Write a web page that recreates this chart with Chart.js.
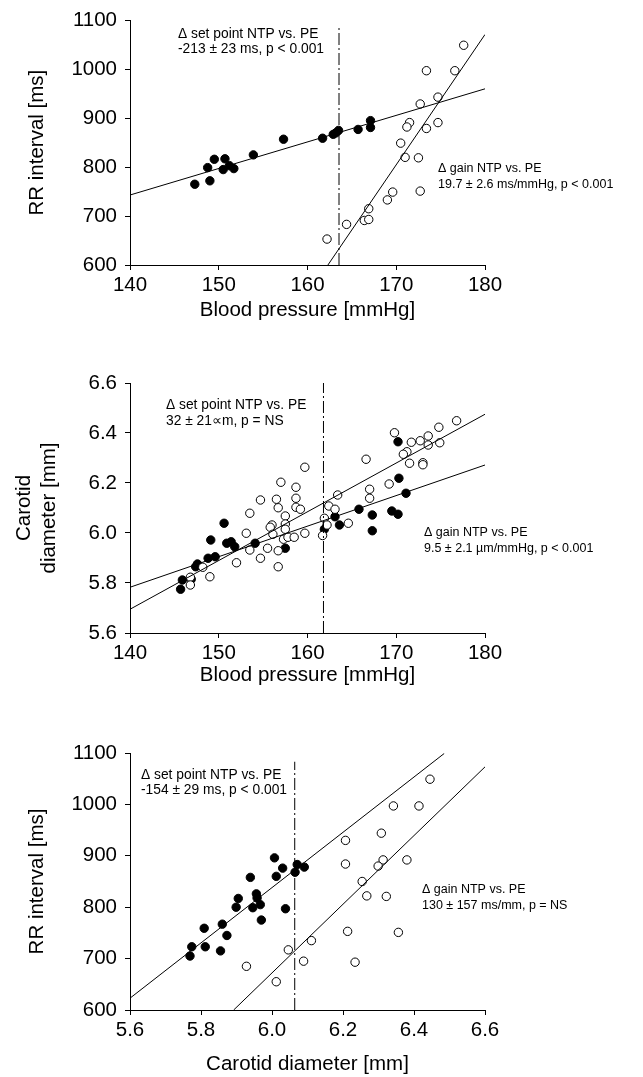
<!DOCTYPE html>
<html>
<head>
<meta charset="utf-8">
<script src="https://cdn.jsdelivr.net/npm/chart.js@4"></script>
<style>
  html, body { margin: 0; padding: 0; background: #fff; }
  body { width: 643px; height: 1077px; position: relative; overflow: hidden; }
  .panel { position: absolute; left: 0; width: 643px; }
</style>
</head>
<body>
<div class="panel" style="top:0;height:323px"><canvas id="c1"></canvas></div>
<div class="panel" style="top:340px;height:348px"><canvas id="c2"></canvas></div>
<div class="panel" style="top:720px;height:357px"><canvas id="c3"></canvas></div>
<script>
// panel 1: RR interval vs blood pressure
const p1FilledX = [147.3, 148.75, 149.0, 149.5, 150.7, 150.5, 151.2, 151.7, 153.9, 157.3, 161.7, 162.9, 163.2, 163.5, 165.7, 167.1, 167.1];
const p1FilledY = [765, 799, 772, 816, 817, 795, 803, 797, 825, 857, 859, 867, 870, 875, 877, 895, 881];
const p1OpenX = [177.6, 173.4, 176.6, 174.7, 172.7, 171.5, 171.2, 173.4, 174.7, 170.5, 171.0, 172.5, 172.7, 169.6, 169.0, 166.9, 166.4, 166.9, 164.4, 162.2];
const p1OpenY = [1049, 997, 997, 943, 929, 891, 882, 879, 891, 849, 820, 819, 751, 749, 733, 715, 691, 693, 683, 653];
const p1FitFilledX = [140, 180], p1FitFilledY = [743, 960];
const p1FitOpenX = [162.3, 180], p1FitOpenY = [600, 1071];
const p1SetX = [163.55, 163.55], p1SetY = [600, 1085];

// panel 2: carotid diameter vs blood pressure
const p2FilledX = [145.7, 145.9, 146.9, 147.4, 147.6, 148.8, 149.6, 149.1, 150.6, 150.9, 151.4, 151.8, 154.1, 157.5, 161.9, 163.1, 163.6, 165.8, 167.3, 167.3, 169.5, 170.2, 170.2, 170.3, 171.1];
const p2FilledY = [5.775, 5.812, 5.815, 5.865, 5.876, 5.899, 5.905, 5.972, 6.039, 5.959, 5.965, 5.945, 5.959, 5.939, 6.015, 6.065, 6.032, 6.095, 6.072, 6.009, 6.088, 6.075, 6.365, 6.219, 6.159];
const p2OpenX = [159.7, 157.0, 158.7, 156.5, 158.7, 154.7, 156.7, 158.7, 159.2, 153.5, 157.5, 156.0, 155.8, 157.5, 157.5, 153.1, 156.1, 157.3, 157.8, 158.5, 159.7, 161.7, 155.5, 153.5, 156.7, 154.7, 152.0, 156.7, 148.2, 149.0, 146.8, 146.8,
  176.8, 174.8, 174.9, 173.6, 173.6, 172.7, 171.7, 169.8, 171.2, 170.8, 171.5, 173.0, 173.0, 166.6, 169.2, 167.0, 167.0, 163.4, 162.4, 163.1, 161.9, 162.2, 164.6];
const p2OpenY = [6.263, 6.203, 6.183, 6.135, 6.139, 6.132, 6.101, 6.103, 6.095, 6.079, 6.068, 6.032, 6.023, 6.036, 6.015, 5.999, 5.995, 5.975, 5.983, 5.983, 5.999, 5.990, 5.939, 5.932, 5.929, 5.899, 5.881, 5.865, 5.863, 5.825, 5.823, 5.792,
  6.449, 6.423, 6.361, 6.388, 6.352, 6.369, 6.363, 6.401, 6.325, 6.315, 6.279, 6.281, 6.273, 6.295, 6.196, 6.175, 6.139, 6.152, 6.108, 6.095, 6.059, 6.032, 6.039];
const p2FitFilledX = [140, 180], p2FitFilledY = [5.783, 6.272];
const p2FitOpenX = [140, 180], p2FitOpenY = [5.695, 6.475];
const p2SetX = [161.8, 161.8], p2SetY = [5.6, 6.6];

// panel 3: RR interval vs carotid diameter
const p3FilledX = [5.769, 5.774, 5.809, 5.812, 5.855, 5.860, 5.873, 5.899, 5.905, 5.939, 5.946, 5.956, 5.958, 5.967, 5.970, 6.007, 6.012, 6.030, 6.038, 6.065, 6.071, 6.091];
const p3FilledY = [705, 723, 759, 723, 715, 767, 745, 800, 817, 858, 799, 826, 818, 805, 775, 896, 860, 876, 797, 868, 883, 878];
const p3OpenX = [6.445, 6.342, 6.414, 6.308, 6.207, 6.207, 6.313, 6.299, 6.380, 6.254, 6.267, 6.322, 6.213, 6.356, 6.111, 6.046, 6.089, 6.234, 5.928, 6.012];
const p3OpenY = [1049, 997, 997, 944, 930, 884, 892, 880, 892, 850, 822, 821, 753, 751, 735, 717, 695, 693, 685, 655];
const p3FitFilledX = [5.6, 6.485], p3FitFilledY = [623, 1099];
const p3FitOpenX = [5.892, 6.6], p3FitOpenY = [600, 1073];
const p3SetX = [6.064, 6.064], p3SetY = [600, 1083];

// tick labels
const bpTicks = [140, 150, 160, 170, 180];
const rrTicks = [600, 700, 800, 900, 1000, 1100];
const diamTicks = [5.6, 5.8, 6.0, 6.2, 6.4, 6.6];

const FONT = "'Liberation Sans', Arial, Helvetica, sans-serif";
const AXIS_SIZE = 20.5;

function pts(xs, ys) {
  return xs.map((x, i) => ({ x: x, y: ys[i] }));
}

function pointSet(xs, ys, filled) {
  return {
    data: pts(xs, ys),
    showLine: false,
    pointRadius: 4.2,
    pointBorderWidth: 1,
    pointBorderColor: "#000",
    pointBackgroundColor: filled ? "#000" : "#fff",
  };
}

function lineSet(xs, ys, dash) {
  return {
    data: pts(xs, ys),
    showLine: true,
    borderColor: "#000",
    borderWidth: 1,
    borderDash: dash || [],
    pointRadius: 0,
    fill: false,
  };
}

// text notes drawn on the canvas
const notesPlugin = {
  id: "notes",
  afterDraw(chart) {
    const notes = chart.options.plugins.notes.items || [];
    const ctx = chart.ctx;
    ctx.save();
    ctx.fillStyle = "#000";
    ctx.textBaseline = "middle";
    ctx.textAlign = "left";
    notes.forEach((n) => {
      ctx.font = n.size + "px " + FONT;
      n.lines.forEach((t, i) => ctx.fillText(t, n.x, n.y + i * n.gap));
    });
    ctx.restore();
  },
};

function makeChart(id, cfg) {
  const ctx = document.getElementById(id).getContext("2d");
  return new Chart(ctx, {
    type: "scatter",
    data: {
      datasets: [
        lineSet(cfg.setX, cfg.setY, [12, 3, 2, 3]),
        lineSet(cfg.fitAX, cfg.fitAY),
        lineSet(cfg.fitBX, cfg.fitBY),
        pointSet(cfg.openX, cfg.openY, false),
        pointSet(cfg.filledX, cfg.filledY, true),
      ],
    },
    options: {
      responsive: true,
      maintainAspectRatio: false,
      animation: false,
      layout: { padding: { left: 0, right: 158, top: cfg.top, bottom: 0 } },
      plugins: {
        legend: { display: false },
        tooltip: { enabled: false },
        notes: { items: cfg.notes },
      },
      scales: {
        x: {
          type: "linear",
          min: cfg.xTicks[0],
          max: cfg.xTicks[cfg.xTicks.length - 1],
          afterBuildTicks: (s) => { s.ticks = cfg.xTicks.map((v) => ({ value: v })); },
          afterFit: (s) => { s.height = cfg.xHeight; },
          grid: { display: true, drawOnChartArea: false, drawTicks: true, tickLength: 5, color: "#000" },
          border: { display: true, color: "#000", width: 1 },
          ticks: {
            color: "#000",
            padding: 3,
            maxRotation: 0,
            font: { family: FONT, size: AXIS_SIZE },
            callback: (v) => cfg.xFmt(v),
          },
          title: {
            display: true,
            text: cfg.xTitle,
            color: "#000",
            padding: { top: 0, bottom: 0 },
            font: { family: FONT, size: AXIS_SIZE },
          },
        },
        y: {
          type: "linear",
          min: cfg.yTicks[0],
          max: cfg.yTicks[cfg.yTicks.length - 1],
          afterBuildTicks: (s) => { s.ticks = cfg.yTicks.map((v) => ({ value: v })); },
          afterFit: (s) => { s.width = 130; },
          grid: { display: true, drawOnChartArea: false, drawTicks: true, tickLength: 5, color: "#000" },
          border: { display: true, color: "#000", width: 1 },
          ticks: {
            color: "#000",
            padding: 8,
            font: { family: FONT, size: AXIS_SIZE },
            callback: (v) => cfg.yFmt(v),
          },
          title: {
            display: true,
            text: cfg.yTitle,
            color: "#000",
            padding: { top: cfg.yTitlePad, bottom: 0 },
            font: { family: FONT, size: AXIS_SIZE },
          },
        },
      },
    },
    plugins: [notesPlugin],
  });
}

makeChart("c1", {
  top: 15, xHeight: 58,
  filledX: p1FilledX, filledY: p1FilledY, openX: p1OpenX, openY: p1OpenY,
  fitAX: p1FitFilledX, fitAY: p1FitFilledY, fitBX: p1FitOpenX, fitBY: p1FitOpenY,
  setX: p1SetX, setY: p1SetY,
  xTicks: bpTicks, yTicks: rrTicks,
  xFmt: (v) => String(v), yFmt: (v) => String(v),
  xTitle: "Blood pressure [mmHg]", yTitle: "RR interval [ms]", yTitlePad: 25,
  notes: [
    { x: 178, y: 34, size: 13.8, gap: 15, lines: ["\u0394 set point NTP vs. PE", "-213 \u00b1 23 ms, p < 0.001"] },
    { x: 438, y: 169, size: 12.5, gap: 15.5, lines: ["\u0394 gain NTP vs. PE", "19.7 \u00b1 2.6 ms/mmHg, p < 0.001"] },
  ],
});

makeChart("c2", {
  top: 43, xHeight: 55,
  filledX: p2FilledX, filledY: p2FilledY, openX: p2OpenX, openY: p2OpenY,
  fitAX: p2FitFilledX, fitAY: p2FitFilledY, fitBX: p2FitOpenX, fitBY: p2FitOpenY,
  setX: p2SetX, setY: p2SetY,
  xTicks: bpTicks, yTicks: diamTicks,
  xFmt: (v) => String(v), yFmt: (v) => v.toFixed(1),
  xTitle: "Blood pressure [mmHg]", yTitle: ["Carotid", "diameter [mm]"], yTitlePad: 12,
  notes: [
    { x: 166, y: 65, size: 13.8, gap: 16, lines: ["\u0394 set point NTP vs. PE", "32 \u00b1 21\u221dm, p = NS"] },
    { x: 424, y: 193, size: 12.5, gap: 16, lines: ["\u0394 gain NTP vs. PE", "9.5 \u00b1 2.1 \u00b5m/mmHg, p < 0.001"] },
  ],
});

makeChart("c3", {
  top: 33, xHeight: 67,
  filledX: p3FilledX, filledY: p3FilledY, openX: p3OpenX, openY: p3OpenY,
  fitAX: p3FitFilledX, fitAY: p3FitFilledY, fitBX: p3FitOpenX, fitBY: p3FitOpenY,
  setX: p3SetX, setY: p3SetY,
  xTicks: diamTicks, yTicks: rrTicks,
  xFmt: (v) => v.toFixed(1), yFmt: (v) => String(v),
  xTitle: "Carotid diameter [mm]", yTitle: "RR interval [ms]", yTitlePad: 25,
  notes: [
    { x: 141, y: 55, size: 13.8, gap: 15, lines: ["\u0394 set point NTP vs. PE", "-154 \u00b1 29 ms, p < 0.001"] },
    { x: 422, y: 170, size: 12.5, gap: 15.5, lines: ["\u0394 gain NTP vs. PE", "130 \u00b1 157 ms/mm, p = NS"] },
  ],
});
</script>
</body>
</html>
